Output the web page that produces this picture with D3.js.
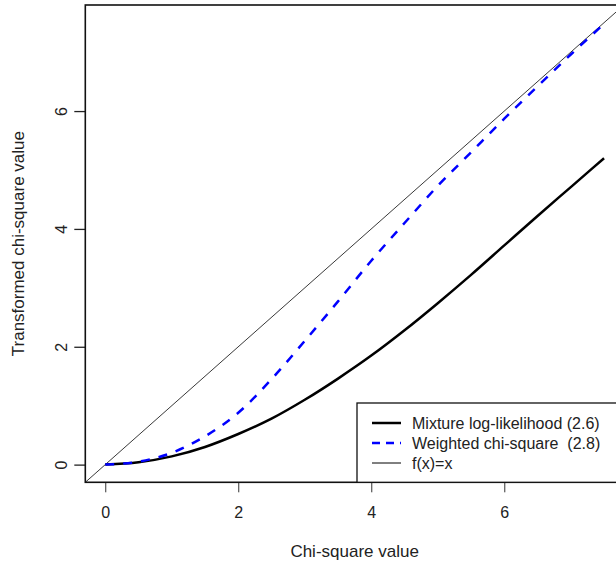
<!DOCTYPE html>
<html>
<head>
<meta charset="utf-8">
<script src="https://cdn.jsdelivr.net/npm/d3@7"></script>
<style>
  body { margin: 0; background: #fff; }
  svg text { font-family: "Liberation Sans", Arial, sans-serif; fill: #222; white-space: pre; }
</style>
</head>
<body>
<svg id="chart" width="616" height="567"></svg>
<script>
// values
const chiSquare   = [0, 0.5, 1, 1.5, 2, 2.5, 3, 3.5, 4, 4.5, 5, 5.5, 6, 6.5, 7, 7.5];
const mixtureLL   = [0, 0.04, 0.14, 0.30, 0.52, 0.78, 1.10, 1.46, 1.85, 2.28, 2.74, 3.22, 3.72, 4.22, 4.71, 5.20];
const weightedChi = [0, 0.05, 0.20, 0.48, 0.88, 1.45, 2.10, 2.77, 3.46, 4.10, 4.73, 5.30, 5.87, 6.42, 6.96, 7.48];
const xTicks = [0, 2, 4, 6];
const yTicks = [0, 2, 4, 6];
const legendLabels = ['Mixture log-likelihood (2.6)', 'Weighted chi-square  (2.8)', 'f(x)=x'];

const svg = d3.select('#chart');

const plotLeft = 85.3, plotRight = 624, plotTop = 5, plotBottom = 482.3;

const x = d3.scaleLinear().domain([-0.3, 7.8]).range([plotLeft, plotRight]);
const y = d3.scaleLinear().domain([-0.3, 7.8]).range([plotBottom, plotTop]);

// axes with R-style outward ticks
const xAxis = svg.append('g')
    .attr('transform', `translate(0,${plotBottom})`)
    .call(d3.axisBottom(x).tickValues(xTicks).tickSize(10).tickPadding(14).tickFormat(d3.format('d')))
xAxis.select('.domain').remove()
xAxis.selectAll('line').attr('stroke', '#333')
xAxis.selectAll('text').style('font-size', '16px').style('font-family', '"Liberation Sans", Arial, sans-serif').attr('fill', '#222')

const yAxis = svg.append('g')
    .attr('transform', `translate(${plotLeft},0)`)
    .call(d3.axisLeft(y).tickValues(yTicks).tickSize(11).tickFormat(d3.format('d')))
yAxis.select('.domain').remove()
yAxis.selectAll('line').attr('stroke', '#222').attr('stroke-width', 1.3)
yAxis.selectAll('text')
    .style('font-size', '16px')
    .style('font-family', '"Liberation Sans", Arial, sans-serif')
    .attr('fill', '#222')
    .attr('x', 0).attr('y', 0).attr('dy', '0.35em')
    .attr('text-anchor', 'middle')
    .attr('transform', 'translate(-24,0) rotate(-90)')

// reference line f(x)=x across the whole plot
svg.append('line')
    .attr('x1', x(-0.3)).attr('y1', y(-0.3))
    .attr('x2', x(7.8)).attr('y2', y(7.8))
    .attr('stroke', '#222').attr('stroke-width', 0.9)

const line = d3.line().curve(d3.curveMonotoneX)

svg.append('path')
    .attr('d', line(chiSquare.map((d, i) => [x(d), y(mixtureLL[i])])))
    .attr('fill', 'none').attr('stroke', '#000').attr('stroke-width', 2.5)

svg.append('path')
    .attr('d', line(chiSquare.map((d, i) => [x(d), y(weightedChi[i])])))
    .attr('fill', 'none').attr('stroke', '#0000ff').attr('stroke-width', 2.5)
    .attr('stroke-dasharray', '9,9')

// plot box
svg.append('rect')
    .attr('x', plotLeft).attr('y', plotTop)
    .attr('width', plotRight - plotLeft).attr('height', plotBottom - plotTop)
    .attr('fill', 'none').attr('stroke', '#111').attr('stroke-width', 1.6)

// legend (bottom right)
const legend = svg.append('g')
legend.append('rect')
    .attr('x', 357).attr('y', 403)
    .attr('width', plotRight - 357).attr('height', plotBottom - 403)
    .attr('fill', '#fff').attr('stroke', '#111').attr('stroke-width', 1.3)

const legendStyles = [
    {color: '#000', width: 2.5, dash: null},
    {color: '#0000ff', width: 2.5, dash: '8,6'},
    {color: '#000', width: 1, dash: null}
]
legendLabels.forEach((lab, i) => {
    const ly = 423 + i * 20
    legend.append('line')
        .attr('x1', 372).attr('x2', 401).attr('y1', ly).attr('y2', ly)
        .attr('stroke', legendStyles[i].color)
        .attr('stroke-width', legendStyles[i].width)
        .attr('stroke-dasharray', legendStyles[i].dash)
    legend.append('text')
        .attr('x', 412).attr('y', ly).attr('dy', '0.35em')
        .style('font-size', '16px')
        .text(lab)
})

// axis titles
svg.append('text')
    .attr('x', (plotLeft + plotRight) / 2).attr('y', 557)
    .attr('text-anchor', 'middle')
    .style('font-size', '17px')
    .text('Chi-square value')

svg.append('text')
    .attr('transform', `translate(24,${(plotTop + plotBottom) / 2}) rotate(-90)`)
    .attr('text-anchor', 'middle')
    .style('font-size', '17px')
    .text('Transformed chi-square value')
</script>
</body>
</html>
